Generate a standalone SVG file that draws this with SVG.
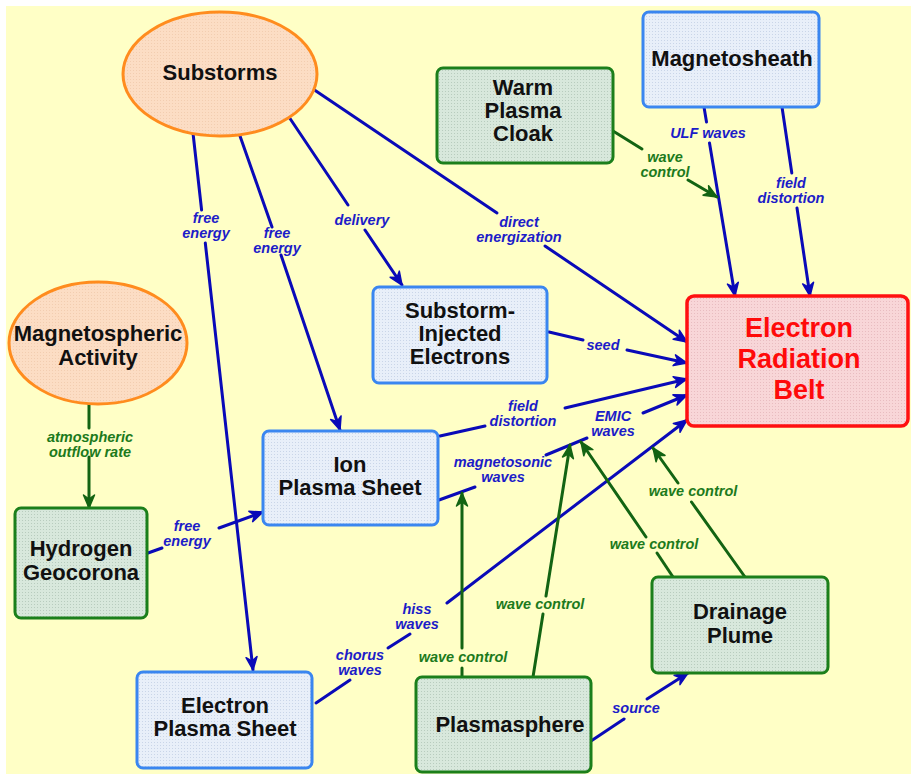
<svg xmlns="http://www.w3.org/2000/svg" width="911" height="774" viewBox="0 0 911 774">
<style>
.nt{font-family:"Liberation Sans",Arial,sans-serif;font-weight:bold;font-size:22px;fill:#111;text-anchor:middle}
.big{font-family:"Liberation Sans",Arial,sans-serif;font-weight:bold;font-size:27px;fill:#FF0A0A;text-anchor:middle}
.lb{font-family:"Liberation Sans",Arial,sans-serif;font-weight:bold;font-style:italic;font-size:14.5px;fill:#1C1CC8;text-anchor:middle}
.lg{font-family:"Liberation Sans",Arial,sans-serif;font-weight:bold;font-style:italic;font-size:14.5px;fill:#1C7A1C;text-anchor:middle}
.cb line{stroke:#0A0AB8;stroke-width:3;fill:none;stroke-linecap:round}
.cg line{stroke:#136413;stroke-width:3;fill:none;stroke-linecap:round}
.bb{fill:url(#pBlue);stroke:#3A86F0;stroke-width:3}
.gb{fill:url(#pGreen);stroke:#1B7F1B;stroke-width:3}
.ov{fill:url(#pOr);stroke:#FF8C1E;stroke-width:3}
.rb{fill:url(#pRed);stroke:#FF1010;stroke-width:3.5}
</style>
<defs>
<pattern id="pBlue" width="3" height="3" patternUnits="userSpaceOnUse"><rect width="3" height="3" fill="#E8EFF9"/><rect x="1" y="1" width="1" height="1" fill="#C9D5E8"/></pattern>
<pattern id="pGreen" width="3" height="3" patternUnits="userSpaceOnUse"><rect width="3" height="3" fill="#D8E8DC"/><rect x="1" y="1" width="1" height="1" fill="#B8CCBE"/></pattern>
<pattern id="pOr" width="3" height="3" patternUnits="userSpaceOnUse"><rect width="3" height="3" fill="#FCDDC4"/><rect x="1" y="1" width="1" height="1" fill="#F2CDB0"/></pattern>
<pattern id="pRed" width="3" height="3" patternUnits="userSpaceOnUse"><rect width="3" height="3" fill="#F8D6D8"/><rect x="1" y="1" width="1" height="1" fill="#E8BCC0"/></pattern>
<marker id="ab" markerUnits="userSpaceOnUse" markerWidth="16" markerHeight="14" refX="14" refY="7" orient="auto" overflow="visible"><path d="M1,1.5 L14,7 L1,12.5 L5,7 z" fill="#0A0AB8" stroke="#0A0AB8" stroke-width="1.5" stroke-linejoin="round"/></marker>
<marker id="ag" markerUnits="userSpaceOnUse" markerWidth="16" markerHeight="14" refX="14" refY="7" orient="auto" overflow="visible"><path d="M1,1.5 L14,7 L1,12.5 L5,7 z" fill="#136413" stroke="#136413" stroke-width="1.5" stroke-linejoin="round"/></marker>
</defs>
<rect x="0" y="0" width="911" height="774" fill="#FFFFFF"/>
<rect x="6" y="6" width="905" height="768" fill="#FFFFC6"/>

<g id="connectors">
<g class="cb">
<line x1="193" y1="133" x2="201.6" y2="210"/>
<line x1="205.3" y1="243" x2="253" y2="670" marker-end="url(#ab)"/>
<line x1="240" y1="136" x2="272" y2="227"/>
<line x1="281" y1="255" x2="340" y2="430" marker-end="url(#ab)"/>
<line x1="289" y1="117" x2="348" y2="205"/>
<line x1="365" y1="230" x2="402" y2="285" marker-end="url(#ab)"/>
<line x1="313" y1="89" x2="497" y2="213"/>
<line x1="545" y1="246" x2="687" y2="342" marker-end="url(#ab)"/>
<line x1="704" y1="107" x2="706.5" y2="122"/>
<line x1="709.5" y1="143" x2="735" y2="296" marker-end="url(#ab)"/>
<line x1="782" y1="107" x2="791.8" y2="173"/>
<line x1="797" y1="208" x2="810" y2="296" marker-end="url(#ab)"/>
<line x1="549" y1="332" x2="583" y2="340"/>
<line x1="627" y1="350" x2="687" y2="363" marker-end="url(#ab)"/>
<line x1="440" y1="436" x2="485" y2="426"/>
<line x1="565" y1="408" x2="687" y2="379" marker-end="url(#ab)"/>
<line x1="439" y1="500" x2="475" y2="487"/>
<line x1="546" y1="455" x2="587" y2="438"/>
<line x1="643" y1="413" x2="687" y2="395" marker-end="url(#ab)"/>
<line x1="316" y1="703" x2="350" y2="680"/>
<line x1="388" y1="648" x2="410" y2="634"/>
<line x1="447" y1="603" x2="687" y2="420" marker-end="url(#ab)"/>
<line x1="591" y1="741" x2="624" y2="719"/>
<line x1="647" y1="699" x2="688" y2="673" marker-end="url(#ab)"/>
<line x1="148" y1="553" x2="162" y2="548"/>
<line x1="219" y1="528" x2="263" y2="512" marker-end="url(#ab)"/>
</g>
<g class="cg">
<line x1="613" y1="131" x2="642" y2="149"/>
<line x1="688" y1="180" x2="717" y2="197" marker-end="url(#ag)"/>
<line x1="462" y1="677" x2="462" y2="668"/>
<line x1="462" y1="648" x2="462" y2="493" marker-end="url(#ag)"/>
<line x1="533" y1="677" x2="543" y2="614"/>
<line x1="546" y1="596" x2="570" y2="445" marker-end="url(#ag)"/>
<line x1="673" y1="577" x2="657" y2="553"/>
<line x1="646" y1="537" x2="581" y2="442" marker-end="url(#ag)"/>
<line x1="745" y1="577" x2="691.5" y2="502"/>
<line x1="678" y1="483" x2="653" y2="448" marker-end="url(#ag)"/>
<line x1="89" y1="404" x2="89" y2="428"/>
<line x1="89" y1="457" x2="89" y2="508" marker-end="url(#ag)"/>
</g>
<g id="labels">
<text class="lb" x="206" y="223">free</text><text class="lb" x="206" y="238">energy</text>
<text class="lb" x="277" y="238">free</text><text class="lb" x="277" y="253">energy</text>
<text class="lb" x="362" y="225">delivery</text>
<text class="lb" x="519" y="227">direct</text><text class="lb" x="519" y="242">energization</text>
<text class="lb" x="708" y="138">ULF waves</text>
<text class="lb" x="791" y="188">field</text><text class="lb" x="791" y="203">distortion</text>
<text class="lb" x="603" y="350">seed</text>
<text class="lb" x="523" y="411">field</text><text class="lb" x="523" y="426">distortion</text>
<text class="lb" x="503" y="467">magnetosonic</text><text class="lb" x="503" y="482">waves</text>
<text class="lb" x="613" y="421">EMIC</text><text class="lb" x="613" y="436">waves</text>
<text class="lb" x="360" y="660">chorus</text><text class="lb" x="360" y="675">waves</text>
<text class="lb" x="417" y="614">hiss</text><text class="lb" x="417" y="629">waves</text>
<text class="lb" x="636" y="713">source</text>
<text class="lb" x="187" y="531">free</text><text class="lb" x="187" y="546">energy</text>
<text class="lg" x="665" y="162">wave</text><text class="lg" x="665" y="177">control</text>
<text class="lg" x="463" y="662">wave control</text>
<text class="lg" x="540" y="609">wave control</text>
<text class="lg" x="654" y="549">wave control</text>
<text class="lg" x="693" y="496">wave control</text>
<text class="lg" x="90" y="442">atmospheric</text><text class="lg" x="90" y="457">outflow rate</text>
</g>
</g>

<g id="substorms"><ellipse class="ov" cx="220" cy="74" rx="97" ry="62"/><text class="nt" x="220" y="80">Substorms</text></g>
<g id="magnetospheric-activity"><ellipse class="ov" cx="98" cy="343" rx="89" ry="61"/><text class="nt" x="98" y="341">Magnetospheric</text><text class="nt" x="98" y="365">Activity</text></g>
<g id="warm-plasma-cloak"><rect class="gb" x="437" y="68" width="176" height="95" rx="6"/><text class="nt" x="523" y="95">Warm</text><text class="nt" x="523" y="118">Plasma</text><text class="nt" x="523" y="141">Cloak</text></g>
<g id="magnetosheath"><rect class="bb" x="643" y="12" width="176" height="95" rx="6"/><text class="nt" x="732" y="66">Magnetosheath</text></g>
<g id="substorm-injected-electrons"><rect class="bb" x="373" y="287" width="174" height="96" rx="6"/><text class="nt" x="460" y="318">Substorm-</text><text class="nt" x="460" y="341">Injected</text><text class="nt" x="460" y="364">Electrons</text></g>
<g id="electron-radiation-belt"><rect class="rb" x="687" y="296" width="221" height="130" rx="7"/><text class="big" x="799" y="337">Electron</text><text class="big" x="799" y="368">Radiation</text><text class="big" x="799" y="399">Belt</text></g>
<g id="ion-plasma-sheet"><rect class="bb" x="263" y="431" width="175" height="94" rx="6"/><text class="nt" x="350" y="472">Ion</text><text class="nt" x="350" y="495">Plasma Sheet</text></g>
<g id="hydrogen-geocorona"><rect class="gb" x="15" y="508" width="132" height="110" rx="6"/><text class="nt" x="81" y="556">Hydrogen</text><text class="nt" x="81" y="580">Geocorona</text></g>
<g id="electron-plasma-sheet"><rect class="bb" x="137" y="672" width="175" height="96" rx="6"/><text class="nt" x="225" y="713">Electron</text><text class="nt" x="225" y="736">Plasma Sheet</text></g>
<g id="plasmasphere"><rect class="gb" x="416" y="677" width="175" height="95" rx="6"/><text class="nt" x="510" y="732">Plasmasphere</text></g>
<g id="drainage-plume"><rect class="gb" x="652" y="577" width="176" height="96" rx="6"/><text class="nt" x="740" y="619">Drainage</text><text class="nt" x="740" y="643">Plume</text></g>
</svg>
